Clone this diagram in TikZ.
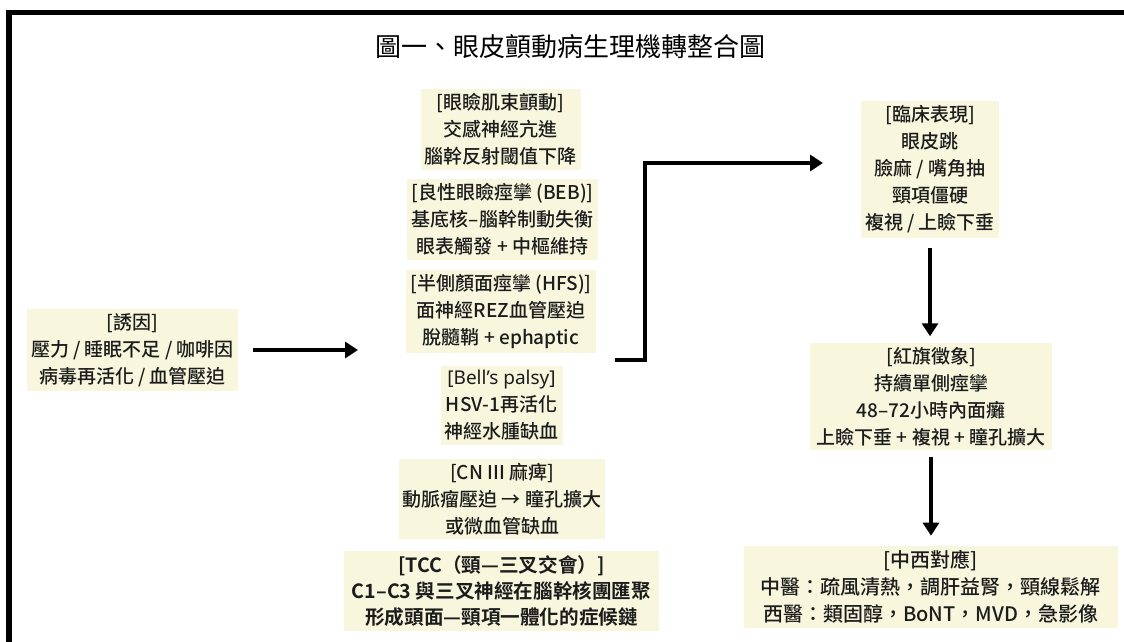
\documentclass[tikz,border=0pt]{standalone}
\usepackage{fontspec}
\setmainfont{Noto Sans CJK TC}[UprightFont={* Medium},BoldFont={* Bold}]
\newfontfamily\latinfont{Noto Sans}
\newfontfamily\titlefont{Noto Sans CJK TC}
\usepackage{tikz}
\usetikzlibrary{arrows.meta}
\definecolor{boxfill}{RGB}{248,247,222}
\definecolor{ink}{RGB}{28,28,28}

\begin{document}
\begin{tikzpicture}[x=0.5pt,y=-0.5pt,
  box/.style={fill=boxfill,text=ink,inner xsep=2pt,inner ysep=2.2pt,align=center,
              font=\fontsize{9.5}{13.5}\selectfont},
  arr/.style={line width=1.6pt,-{Triangle[length=6.5pt,width=8pt]}}]
% page and frame
\useasboundingbox (0,0) rectangle (1124,642);
\clip (0,0) rectangle (1124,642);
\fill[white] (0,0) rectangle (1124,642);
\draw[line width=2.8pt] (9,12.5) rectangle (1140,660);

% title
\node (title) at (570,47) {\titlefont\fontsize{13}{15}\selectfont 圖一、眼皮顫動病生理機轉整合圖};

% left: triggers
\node[box] (cause) at (132.5,350) {[誘因]\\壓力 / 睡眠不足 / 咖啡因\\病毒再活化 / 血管壓迫};

% middle column: mechanisms
\node[box] (twitch) at (500.5,129.5) {[眼瞼肌束顫動]\\交感神經亢進\\腦幹反射閾值下降};
\node[box] (beb)    at (502.5,219.5) {[良性眼瞼痙攣 (BEB)]\\基底核–腦幹制動失衡\\眼表觸發 + 中樞維持};
\node[box] (hfs)    at (501,311.5)   {[半側顏面痙攣 (HFS)]\\面神經REZ血管壓迫\\脫髓鞘 + ephaptic};
\node[box] (bell)   at (501.5,405.5) {{\latinfont [Bell’s palsy]}\\HSV-1再活化\\神經水腫缺血};
\node[box] (cn3)    at (502,499)     {[CN III 麻痺]\\動脈瘤壓迫 → 瞳孔擴大\\或微血管缺血};
\node[box,inner xsep=4pt,font=\fontsize{9.8}{13}\selectfont\bfseries] (tcc) at (501.5,591)
  {[TCC（頸—三叉交會）]\\C1–C3 與三叉神經在腦幹核團匯聚\\形成頭面—頸項一體化的症候鏈};

% right column: outcome
\node[box] (clinic)  at (930,169.5)  {[臨床表現]\\眼皮跳\\臉麻 / 嘴角抽\\頸項僵硬\\複視 / 上瞼下垂};
\node[box,inner xsep=3.5pt] (redflag) at (931,396.5)  {[紅旗徵象]\\持續單側痙攣\\48–72小時內面癱\\上瞼下垂 + 複視 + 瞳孔擴大};
\node[box,inner xsep=8.5pt,font=\fontsize{10}{13.5}\selectfont] (tcmwest) at (930.5,587)
  {[中西對應]\\中醫：疏風清熱，調肝益腎，頸線鬆解\\西醫：類固醇，BoNT，MVD，急影像};

% connectors
\coordinate (mechin) at (358,350);
\coordinate (branch) at (615,360);
\coordinate (bend) at (645,360);
\coordinate (toclinic) at (823,163);

\draw[arr,shorten <=7.5pt] (cause) -- (mechin);
\draw[arr] (branch) -- (bend) |- (toclinic);
\draw[arr,shorten <=5pt,shorten >=3pt] (clinic.south) -- (clinic.south |- redflag.north);
\draw[arr,shorten <=3pt,shorten >=5pt] (redflag.south) -- (redflag.south |- tcmwest.north);
\end{tikzpicture}
\end{document}
